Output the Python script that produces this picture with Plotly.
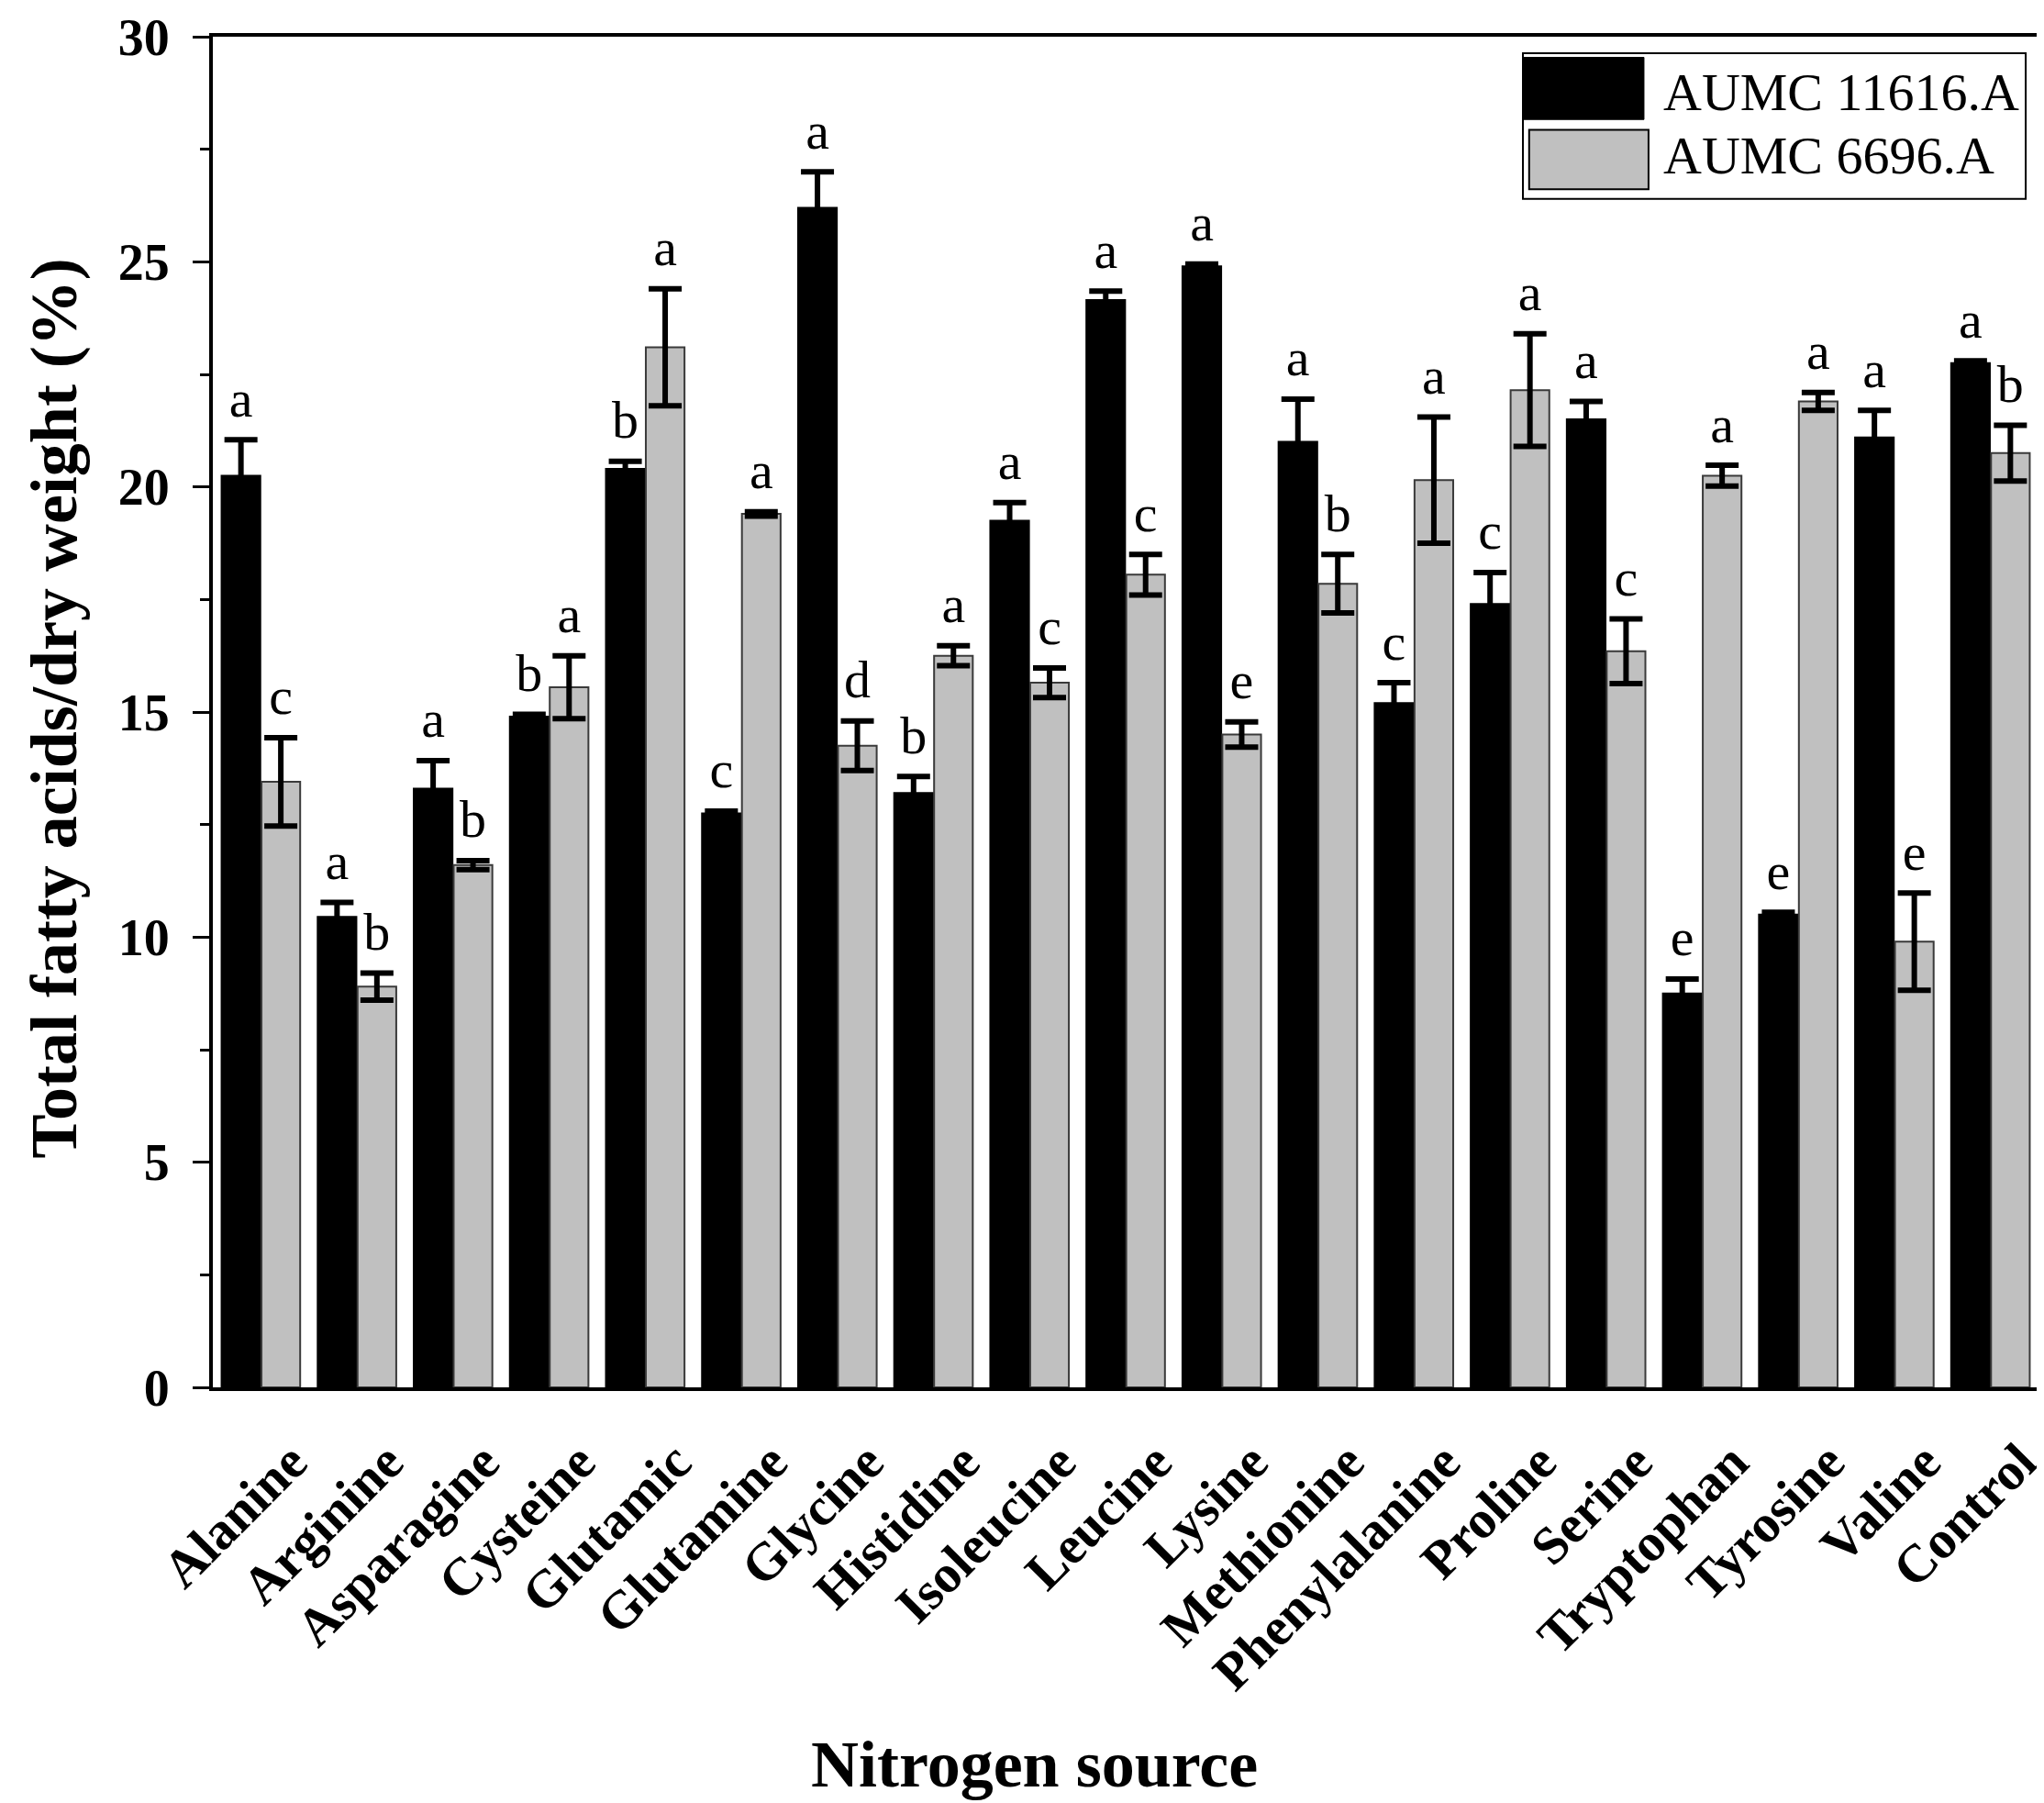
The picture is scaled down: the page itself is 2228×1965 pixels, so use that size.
import plotly.graph_objects as go

# nitrogen sources (x categories)
sources = ['Alanine', 'Arginine', 'Asparagine', 'Cysteine', 'Glutamic', 'Glutamine',
           'Glycine', 'Histidine', 'Isoleucine', 'Leucine', 'Lysine', 'Methionine',
           'Phenylalanine', 'Proline', 'Serine', 'Tryptophan', 'Tyrosine', 'Valine',
           'Control']

# AUMC 11616.A
tfa_11616 = [20.25, 10.45, 13.3, 14.9, 20.4, 12.75, 26.2, 13.2, 19.25, 24.15, 24.9,
             21.0, 15.2, 17.4, 21.5, 8.75, 10.5, 21.1, 22.75]
err_11616 = [0.8, 0.32, 0.62, 0.05, 0.17, 0.05, 0.8, 0.37, 0.4, 0.2, 0.05,
             0.95, 0.45, 0.7, 0.4, 0.32, 0.05, 0.6, 0.05]
let_11616 = ['a', 'a', 'a', 'b', 'b', 'c', 'a', 'b', 'a', 'a', 'a',
             'a', 'c', 'c', 'a', 'e', 'e', 'a', 'a']

# AUMC 6696.A
tfa_6696 = [13.45, 8.9, 11.6, 15.55, 23.1, 19.4, 14.25, 16.25, 15.65, 18.05, 14.5,
            17.85, 20.15, 22.15, 16.35, 20.25, 21.9, 9.9, 20.75]
err_6696 = [0.98, 0.3, 0.1, 0.7, 1.3, 0.05, 0.55, 0.22, 0.33, 0.45, 0.28,
            0.65, 1.4, 1.25, 0.72, 0.23, 0.2, 1.08, 0.62]
let_6696 = ['c', 'b', 'b', 'a', 'a', 'a', 'd', 'a', 'c', 'c', 'e',
            'b', 'a', 'a', 'c', 'a', 'a', 'e', 'b']

y_ticks = [0, 5, 10, 15, 20, 25, 30]

serif = 'Liberation Serif, Times New Roman, serif'
colors = {'AUMC 11616.A': '#000000', 'AUMC 6696.A': '#c0c0c0'}

series = [
    ('AUMC 11616.A', tfa_11616, err_11616, let_11616, '#000000'),
    ('AUMC 6696.A', tfa_6696, err_6696, let_6696, '#3a3a3a'),
]

fig = go.Figure()
for name, vals, errs, lets, edge in series:
    fig.add_trace(go.Bar(x=sources, y=vals, name=name,
                         offsetgroup=name, alignmentgroup='g',
                         marker=dict(color=colors[name], line=dict(color=edge, width=2)),
                         error_y=dict(type='data', array=errs, symmetric=True,
                                      color='black', thickness=6, width=18)))
    # significance letters sit on top of the error bars
    # (an invisible marker pushes the text a little higher)
    tops = [v + e for v, e in zip(vals, errs)]
    fig.add_trace(go.Scatter(x=sources, y=tops, mode='markers+text', text=lets,
                             textposition='top center', offsetgroup=name,
                             alignmentgroup='g', showlegend=False, hoverinfo='skip',
                             marker=dict(size=16, color='rgba(0,0,0,0)'),
                             textfont=dict(family=serif, size=58, color='black')))

# legend box drawn by hand so the swatches are as big as in the original
fig.add_shape(type='rect', xref='paper', yref='paper', x0=0.7176, x1=0.993,
              y0=0.880, y1=0.9878, line=dict(color='black', width=2), fillcolor='white')
fig.add_shape(type='rect', xref='paper', yref='paper', x0=0.7176, x1=0.7839,
              y0=0.9387, y1=0.9847, line=dict(color='black', width=1),
              fillcolor=colors['AUMC 11616.A'])
fig.add_shape(type='rect', xref='paper', yref='paper', x0=0.721, x1=0.7864,
              y0=0.887, y1=0.931, line=dict(color='black', width=2),
              fillcolor=colors['AUMC 6696.A'])
for name, ypos in [('AUMC 11616.A', 0.9588), ('AUMC 6696.A', 0.912)]:
    fig.add_annotation(text=name, xref='paper', yref='paper', x=0.7935, y=ypos,
                       xanchor='left', yanchor='middle', showarrow=False,
                       font=dict(family=serif, size=58, color='black'))

# axis titles as annotations so they can sit exactly where the original has them
fig.add_annotation(text='<b>Nitrogen source</b>', xref='paper', yref='paper',
                   x=0.450, y=-0.279, xanchor='center', yanchor='middle',
                   showarrow=False, font=dict(family=serif, size=72, color='black'))
fig.add_annotation(text='<b>Total fatty acids/dry weight (%)</b>', xref='paper',
                   yref='paper', x=-0.087, y=0.503, textangle=-90,
                   xanchor='center', yanchor='middle', showarrow=False,
                   font=dict(family=serif, size=72, color='black'))

fig.update_layout(width=2228, height=1965,
                  margin=dict(l=224, r=14, t=32, b=461),
                  barmode='group', scattermode='group',
                  bargap=0.17, bargroupgap=0.03,
                  plot_bgcolor='white', paper_bgcolor='white',
                  showlegend=False,
                  font=dict(family=serif, color='black'))
fig.update_xaxes(tickangle=-45, ticks='', ticklabelstandoff=20, ticklabelshift=33,
                 automargin=False,
                 tickfont=dict(family=serif, size=58, color='black'),
                 tickprefix='<b>', ticksuffix='</b>',
                 showline=True, linecolor='black', linewidth=4, mirror=True,
                 showgrid=False)
fig.update_yaxes(range=[0, 30], tickvals=y_ticks, automargin=False,
                 ticklabeloverflow='allow',
                 ticktext=['<b>%d</b>\u00a0' % t for t in y_ticks],
                 ticks='outside', ticklen=18, tickwidth=3, tickcolor='black',
                 minor=dict(dtick=2.5, ticks='outside', ticklen=10, tickwidth=3,
                            tickcolor='black'),
                 tickfont=dict(family=serif, size=56, color='black'),
                 showline=True, linecolor='black', linewidth=4, mirror=True,
                 showgrid=False, zeroline=False)

fig.write_html("out.html")
